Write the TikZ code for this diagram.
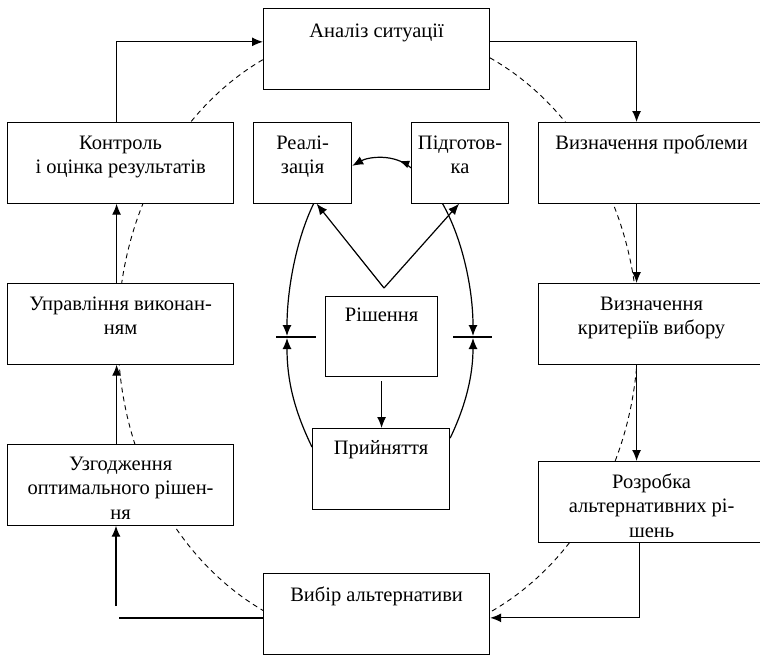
\documentclass[tikz,border=0pt]{standalone}
\usepackage{fontspec}
\setmainfont{Liberation Serif}
\usetikzlibrary{arrows.meta,decorations.markings}
\begin{document}
\begin{tikzpicture}[x=1pt,y=-1pt,
  box/.style={draw, fill=white, line width=1.2pt, minimum width=226pt, minimum height=80.5pt, anchor=north west, inner sep=0pt},
  txt/.style={anchor=north, align=center, inner sep=0pt, font=\fontsize{20.5}{24.5}\selectfont},
  arr/.style={line width=1.2pt, -{Latex[length=11pt,width=9pt]}},
  ln/.style={line width=1.2pt},
  circ/.style={line width=0.9pt, dash pattern=on 5pt off 4pt}]
\path[use as bounding box] (0,0) rectangle (760,654);
\clip (0,0) rectangle (760,654);

% dashed cycle
\draw[circ] (378,335) ellipse [x radius=260pt, y radius=307pt];

% outer boxes
\node[box] (anal) at (263,8) {};
\node[box] (kontr) at (7,122) {};
\node[box] (vp) at (538,122) {};
\node[box] (upr) at (7,283) {};
\node[box] (krit) at (538,283) {};
\node[box] (uzg) at (7,444) {};
\node[box] (rozr) at (538,461) {};
\node[box] (vyb) at (263,573) {};
% inner boxes
\node[box, minimum width=98pt] (real) at (253,122) {};
\node[box, minimum width=97pt] (pidg) at (411,122) {};
\node[box, minimum width=112pt, minimum height=80pt] (rish) at (325,296) {};
\node[box, minimum width=137pt, minimum height=81pt] (prin) at (312,428) {};

% texts
\node[txt] (tanal) at ([yshift=-12pt]anal.north) {\strut Аналіз ситуації};
\node[txt] (tkontr) at ([yshift=-10pt]kontr.north) {\strut Контроль\\і оцінка результатів};
\node[txt] (tvp) at ([yshift=-10pt]vp.north) {\strut Визначення проблеми};
\node[txt] (tupr) at ([yshift=-10pt]upr.north) {\strut Управління виконан-\\ням};
\node[txt] (tkrit) at ([yshift=-10pt]krit.north) {\strut Визначення\\критеріїв вибору};
\node[txt] (tuzg) at ([yshift=-9pt]uzg.north) {\strut Узгодження\\оптимального рішен-\\ня};
\node[txt] (trozr) at ([yshift=-10pt]rozr.north) {\strut Розробка\\альтернативних рі-\\шень};
\node[txt] (tvyb) at ([yshift=-11pt]vyb.north) {\strut Вибір альтернативи};
\node[txt] (treal) at ([yshift=-10pt]real.north) {\strut Реалі-\\зація};
\node[txt] (tpidg) at ([yshift=-10pt]pidg.north) {\strut Підготов-\\ка};
\node[txt] (trish) at ([yshift=-8pt]rish.north) {\strut Рішення};
\node[txt] (tprin) at ([yshift=-9pt]prin.north) {\strut Прийняття};

% outer connectors
\draw[arr] ([xshift=-4pt]kontr.north) |- ([yshift=7pt]anal.west);
\draw[arr] ([yshift=7pt]anal.east) -| ([xshift=-15pt]vp.north);
\draw[arr] ([xshift=-15pt]vp.south) -- ([xshift=-15pt]krit.north);
\draw[arr] ([xshift=-15pt]krit.south) -- ([xshift=-15pt]rozr.north);
\draw[arr] ([xshift=-12pt]rozr.south) |- ([yshift=-4pt]vyb.east);
\coordinate (e1) at (119,618);
\coordinate (e2) at (116,606);
\draw[ln] (vyb.west |- e1) -- (e1);
\draw[arr] (e2) -- (e2 |- uzg.south);
\draw[arr] ([xshift=-4pt]uzg.north) -- ([xshift=-4pt]upr.south);
\draw[arr] ([xshift=-4pt]upr.north) -- ([xshift=-4pt]kontr.south);

% inner connectors
\draw[arr, postaction={decorate}, decoration={markings, mark=at position 0.22 with {\arrow{Latex[length=10pt,width=8pt]}}}]
  ([yshift=-5pt]pidg.west) .. controls (394,153) and (368,157) .. ([yshift=-3pt]real.east);
\coordinate (v) at (384,288);
\draw[arr] (v) -- ([xshift=14pt]real.south);
\draw[arr] (v) -- ([xshift=-1pt]pidg.south);
\draw[arr] ([yshift=-4pt]rish.south) -- (rish.south |- prin.north);
\coordinate (ml) at (287,337);
\coordinate (mr) at (473,337);
\draw[arr] ([xshift=11pt]real.south) .. controls (296,240) and (287,290) .. ([yshift=1pt]ml);
\draw[arr] ([yshift=-19pt]prin.north west) .. controls (294,410) and (287,380) .. ([yshift=-1pt]ml);
\draw[ln] ([xshift=-11pt]ml) -- ([xshift=29pt]ml);
\draw[arr] ([xshift=-17.5pt]pidg.south) .. controls (463,240) and (473,290) .. ([yshift=1pt]mr);
\draw[arr] ([yshift=-10pt]prin.north east) .. controls (466,405) and (473,375) .. ([yshift=-1pt]mr);
\draw[ln] ([xshift=-20pt]mr) -- ([xshift=19pt]mr);
\end{tikzpicture}
\end{document}
